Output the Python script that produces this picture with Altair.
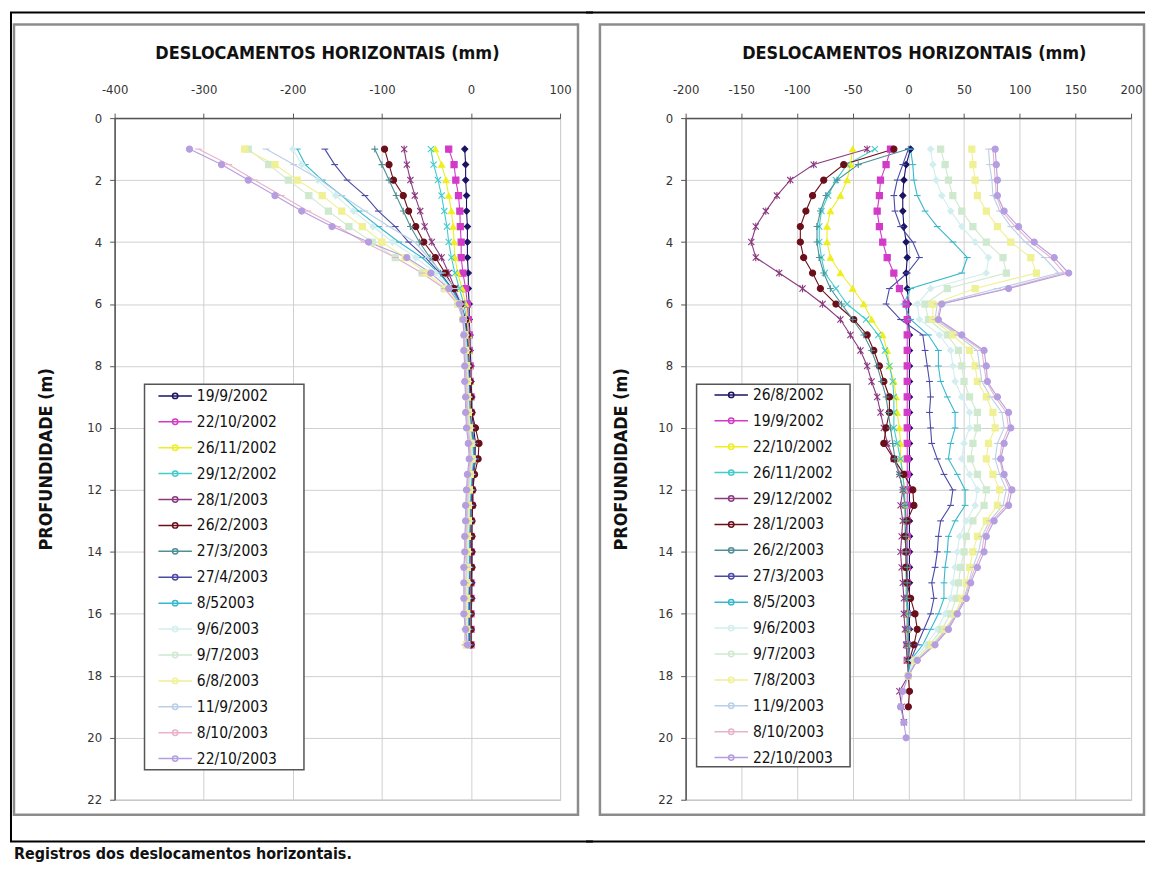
import altair as alt
import pandas as pd

FONT = "Liberation Sans Narrow, DejaVu Sans Condensed, Arial Narrow, sans-serif"

# ---------------- depths (m) ----------------
PROF_L = [1.0, 1.5, 2.0, 2.5, 3.0, 3.5, 4.0, 4.5, 5.0, 5.5, 6.0, 6.5, 7.0, 7.5, 8.0, 8.5,
          9.0, 9.5, 10.0, 10.5, 11.0, 11.5, 12.0, 12.5, 13.0, 13.5, 14.0, 14.5, 15.0,
          15.5, 16.0, 16.5, 17.0]
PROF_R = [1.0, 1.5, 2.0, 2.5, 3.0, 3.5, 4.0, 4.5, 5.0, 5.5, 6.0, 6.5, 7.0, 7.5, 8.0, 8.5,
          9.0, 9.5, 10.0, 10.5, 11.0, 11.5, 12.0, 12.5, 13.0, 13.5, 14.0, 14.5, 15.0,
          15.5, 16.0, 16.5, 17.0, 17.5, 18.0, 18.5, 19.0, 19.5, 20.0]

# ---------------- series names ----------------
DATAS_L = ["19/9/2002", "22/10/2002", "26/11/2002", "29/12/2002", "28/1/2003", "26/2/2003",
           "27/3/2003", "27/4/2003", "8/52003", "9/6/2003", "9/7/2003", "6/8/2003",
           "11/9/2003", "8/10/2003", "22/10/2003"]
DATAS_R = ["26/8/2002", "19/9/2002", "22/10/2002", "26/11/2002", "29/12/2002", "28/1/2003",
           "26/2/2003", "27/3/2003", "8/5/2003", "9/6/2003", "9/7/2003", "7/8/2003",
           "11/9/2003", "8/10/2003", "22/10/2003"]

CORES = ["#1b1464", "#d23ac8", "#eeee22", "#44cccc", "#8a3a80", "#6b0f1a", "#4f8f96",
         "#4a4aa8", "#38b8cc", "#d2eeee", "#cfe9cf", "#f0f095", "#b9cfe8", "#e8b2cc", "#b59ee0"]

X_MARK = "M-1,-1L1,1M-1,1L1,-1"
STAR = "M-1,-1L1,1M-1,1L1,-1M0,-1.2L0,1.2"
PLUS = "M-1.1,0L1.1,0M0,-1.1L0,1.1"
DASH = "M-1.1,0L1.1,0"
FORMAS = ["diamond", "square", "triangle-up", X_MARK, STAR, "circle", PLUS, DASH, DASH,
          "diamond", "square", "square", DASH, DASH, "circle"]

# ---------------- left panel values (mm) ----------------
L01 = [-7, -6, -6, -5, -5, -4, -4, -4, -3, -3, -2, -2, -1, -1, 0, 0, 1, 1, 3, 5, 5, 3, 2, 2, 1, 1, 1, 1, 1, 1, 0, 0, 0]
L02 = [-25, -19, -17, -14, -12.5, -12, -11, -11, -9, -6, -4, -3, -2, -2, -1, -1, 0, 0, 1, 2, 2, 1, 1, 1, 0, 0, 0, 0, 0, 0, 0, 0, 0]
L03 = [-40, -33, -28, -25, -22, -20, -19, -18, -15, -10, -6, -4, -3, -2, -2, -1, -1, 0, 1, 3, 4, 2, 1, 0, 0, 0, -1, -1, -1, -1, -1, -1, -1]
L04 = [-45, -42, -37, -33, -30, -27, -25, -22, -18, -13, -8, -5, -4, -3, -2, -2, -1, -1, 0, 2, 3, 1, 0, 0, -1, -1, -1, -1, -2, -2, -2, -2, -2]
L05 = [-75, -72, -68, -63, -57, -52, -44, -33, -25, -18, -12, -7, -5, -4, -3, -2, -2, -1, 1, 4, 5, 2, 1, 0, 0, -1, -1, -1, -1, -2, -2, -2, -2]
L06 = [-97, -92, -87, -76, -70, -62, -53, -40, -29, -19, -11, -6, -4, -3, -2, -1, 0, 1, 5, 9, 8, 4, 2, 2, 1, 1, 1, 1, 0, 0, 0, 0, 0]
L07 = [-108, -100, -92, -84, -76, -68, -58, -46, -34, -22, -12, -7, -5, -4, -3, -2, -2, -1, 1, 4, 5, 2, 1, 0, 0, -1, -1, -1, -1, -1, -1, -1, -1]
L08 = [-164, -153, -139, -119, -104, -85, -70, -51, -35, -21, -11, -7, -5, -4, -3, -2, -2, -1, 0, 3, 4, 2, 1, 0, -1, -1, -1, -2, -2, -2, -2, -2, -2]
L09 = [-195, -186, -167, -145, -126, -104, -81, -55, -36, -22, -12, -8, -6, -4, -3, -3, -2, -2, 0, 2, 3, 1, 0, -1, -1, -2, -2, -2, -3, -3, -3, -3, -3]
L10 = [-200, -190, -172, -152, -132, -110, -88, -62, -40, -24, -13, -8, -6, -5, -4, -3, -3, -2, -1, 1, 2, 0, -1, -2, -2, -3, -3, -3, -3, -4, -4, -4, -4]
L11 = [-250, -227, -205, -182, -160, -137, -111, -85, -55, -30, -15, -9, -7, -6, -5, -4, -4, -3, -2, 0, 1, -1, -2, -3, -3, -4, -4, -4, -5, -5, -5, -5, -5]
L12 = [-254, -220, -195, -167, -145, -122, -100, -74, -50, -28, -14, -9, -7, -6, -5, -4, -4, -3, -2, 0, 1, -1, -2, -3, -3, -4, -4, -5, -5, -5, -5, -5, -5]
L13 = [-230, -199, -169, -145, -119, -92, -63, -48, -32, -18, -10, -8, -7, -6, -5, -5, -4, -4, -3, -1, 0, -2, -3, -4, -4, -5, -5, -5, -6, -6, -6, -6, -6]
L14 = [-306, -272, -243, -213, -183, -150, -120, -85, -55, -30, -15, -9, -8, -7, -6, -6, -5, -5, -4, -2, -1, -3, -4, -5, -5, -6, -6, -7, -7, -7, -7, -7, -7]
L15 = [-316, -280, -250, -220, -190, -156, -115, -72, -45, -25, -13, -9, -8, -8, -7, -7, -6, -6, -5, -3, -2, -4, -5, -6, -6, -7, -7, -8, -8, -8, -8, -6, -4]

# ---------------- right panel values (mm) ----------------
R01 = [2, -2, -4, -5, -5, -4, -2, -1, -2, -1, 0, 0, 1, 1, 1, 1, 1, 1, 1, 1, 1, 1, 1, 1, 1, 1, 1, 1, 1, 1, 1, 1, 1, 0]
R02 = [-16, -20, -25, -26, -28, -26, -23, -19, -13, -8, -2, -1, -1, -1, -1, -1, -1, -1, -1, -1, -1, -1, -1, -1, -1, -1, -1, -1, -1, -1, -1, -1, -1, -1]
R03 = [-50, -52, -55, -61, -70, -73, -73, -70, -61, -50, -40, -33, -23, -19, -17, -13, -11, -10, -8, -7, -7, -5, -3.5, -3, -3, -2, -2, -2, -2, -1, -1, -1, -1, -1]
R04 = [-30, -55, -65, -72, -78, -80, -80, -78, -75, -65, -55, -38, -27, -21, -17, -14, -13, -13, -13, -10, -7, -5, -3.5, -3, -3, -3, -2, -2, -2, -2, -1, -1, -1, -1]
R05 = [-37, -85, -106, -118, -128, -137, -141, -137, -116, -95, -77, -61, -52, -43, -37, -33, -28, -25, -22, -19, -13, -8, -5, -7, -5, -6, -7, -6, -5, -4, -4, -3, -2, -1, 0, -8, -6, -4]
R06 = [-13, -58, -76, -86, -92, -97, -97, -94, -86, -79, -65, -49, -37, -31, -26, -22, -17, -17, -20, -22, -13, -4, 4, 5, -1, -3, -2, -2, -1, 2, 6, 8, 5, 1, 0, 1, 0]
R07 = [0, -45, -64, -74, -79, -82, -82, -80, -76, -70, -60, -50, -40, -33, -28, -24, -20, -18, -16, -14, -12, -8, -5, -3, -2, -2, -2, -1, -1, -1, 0, 0, 0, 0, 0]
R08 = [0, -5, -10, -13, -12, -7, 4, 10, -1, -17, -20, -7, 13, 15, 17, 19, 20, 19, 20, 21, 26, 32, 40, 38, 29, 27, 26, 24, 21, 23, 20, 14, 8, 2, 0]
R09 = [2, 4, 5, 8, 15, 26, 40, 53, 48, 2, -4, 2, 18, 27, 27, 29, 35, 42, 42, 38, 36, 44, 51, 51, 42, 36, 35, 33, 32, 32, 27, 20, 13, 2, 0]
R10 = [20, 22, 25, 30, 38, 48, 60, 72, 70, 20, 8, 10, 28, 38, 40, 42, 48, 55, 55, 50, 48, 55, 62, 60, 52, 46, 44, 42, 40, 38, 33, 26, 16, 4, 0]
R11 = [29, 33, 36, 40, 48, 58, 70, 85, 88, 35, 15, 18, 35, 45, 48, 50, 55, 62, 62, 58, 56, 62, 70, 68, 58, 52, 50, 47, 45, 43, 38, 30, 19, 6, 0]
R12 = [57, 58, 60, 62, 70, 80, 92, 110, 115, 60, 22, 22, 40, 55, 60, 62, 70, 76, 78, 72, 70, 76, 82, 80, 70, 62, 58, 55, 52, 48, 42, 33, 21, 7, 0]
R13 = [72, 73, 75, 76, 82, 92, 105, 122, 135, 80, 26, 24, 44, 62, 64, 66, 74, 84, 86, 80, 78, 82, 88, 85, 73, 66, 63, 58, 54, 50, 43, 34, 22, 8, 0]
R14 = [76, 77, 78, 79, 84, 96, 110, 128, 140, 88, 29, 26, 46, 66, 68, 70, 78, 88, 90, 84, 82, 85, 91, 88, 75, 68, 66, 60, 55, 51, 43, 35, 23, 8, 0]
R15 = [78, 79, 80, 80, 86, 99, 113, 131, 144, 90, 30, 27, 48, 68, 70, 71, 80, 90, 92, 86, 83, 86, 93, 90, 77, 70, 68, 62, 56, 52, 44, 36, 24, 8, 0, -5, -7, -4, -2]

SERIES_L = [L01, L02, L03, L04, L05, L06, L07, L08, L09, L10, L11, L12, L13, L14, L15]
SERIES_R = [R01, R02, R03, R04, R05, R06, R07, R08, R09, R10, R11, R12, R13, R14, R15]

XTICKS_L = [-400, -300, -200, -100, 0, 100]
XTICKS_R = [-200, -150, -100, -50, 0, 50, 100, 150, 200]
YTICKS = [0, 2, 4, 6, 8, 10, 12, 14, 16, 18, 20, 22]

LEG_SYMBOL = ("M-2.8,0L2.8,0M-0.45,0A0.45,0.45,0,1,0,0.45,0"
              "A0.45,0.45,0,1,0,-0.45,0Z")


def longo(datas, series, prof):
    rows = []
    for i, (nome, vals) in enumerate(zip(datas, series)):
        for p, v in zip(prof, vals):
            rows.append({"serie": nome, "marca": "p" + nome, "ordem": i, "prof": p, "desl": v})
    return pd.DataFrame(rows)


def painel(df, datas, xdom, xticks, legx, legy, legbox, frame, outer, ytitlepad, titlex,
           caption=False):
    x = alt.X("desl:Q",
              scale=alt.Scale(domain=xdom, nice=False, zero=False),
              axis=alt.Axis(orient="top", values=xticks,
                            title="DESLOCAMENTOS HORIZONTAIS (mm)",
                            labelExpr="'' + datum.value",
                            titleFont=FONT, titleFontSize=18, titleFontWeight="bold",
                            titleColor="#111111", titlePadding=21, titleX=titlex,
                            titleAlign="center",
                            labelFont=FONT, labelFontSize=13, labelColor="#333333",
                            labelPadding=17, tickSize=5, tickColor="#555555",
                            domainColor="#555555", domainWidth=1.5,
                            gridColor="#d0d0d0", labelFlush=False))
    y = alt.Y("prof:Q",
              scale=alt.Scale(domain=[0, 22], reverse=True, nice=False, zero=False),
              axis=alt.Axis(values=YTICKS, title="PROFUNDIDADE (m)",
                            titleFont=FONT, titleFontSize=18, titleFontWeight="bold",
                            titleColor="#111111", titlePadding=ytitlepad,
                            labelFont=FONT, labelFontSize=13, labelColor="#333333",
                            labelPadding=8, tickSize=5, tickColor="#555555",
                            domainColor="#555555", domainWidth=1.5,
                            gridColor="#d0d0d0"))
    sc = alt.Scale(domain=datas, range=CORES)
    lines = alt.Chart(df).mark_line(strokeWidth=1.1).encode(
        x=x, y=y,
        color=alt.Color("serie:N", scale=sc, sort=datas,
                        legend=alt.Legend(title=None, orient="none", legendX=legx,
                                          legendY=legy, direction="vertical",
                                          symbolType=LEG_SYMBOL, symbolSize=144,
                                          symbolStrokeWidth=1.5, symbolOffset=16,
                                          labelOffset=14,
                                          labelFont=FONT, labelFontSize=15.5,
                                          labelColor="#111111", rowPadding=9,
                                          padding=4, labelLimit=250)),
        detail="serie:N",
        order=alt.Order("prof:Q"),
    )
    marcas = ["p" + d for d in datas]
    sc2 = alt.Scale(domain=marcas, range=CORES)
    pts = alt.Chart(df).mark_point(filled=True, size=38, strokeWidth=1.1, opacity=1).encode(
        x=x, y=y,
        fill=alt.Fill("marca:N", scale=sc2, legend=None),
        stroke=alt.Stroke("marca:N", scale=sc2, legend=None),
        shape=alt.Shape("marca:N", scale=alt.Scale(domain=marcas, range=FORMAS), legend=None),
    )
    one = pd.DataFrame({"k": [0]})
    fx0, fx1, fy0, fy1 = frame
    box = alt.Chart(one).mark_rect(fill="white", fillOpacity=0, stroke="#8c8c8c",
                                   strokeWidth=2.5).encode(
        x=alt.value(fx0), x2=alt.value(fx1), y=alt.value(fy0), y2=alt.value(fy1))
    lx0, lx1, ly0, ly1 = legbox
    lbox = alt.Chart(one).mark_rect(fill="white", stroke="#555555",
                                    strokeWidth=1.5).encode(
        x=alt.value(lx0), x2=alt.value(lx1), y=alt.value(ly0), y2=alt.value(ly1))
    layers = [box, lbox]
    for (a, b, c, d) in outer:
        if a == b:
            layers.append(alt.Chart(one).mark_rule(color="black", strokeWidth=2).encode(
                x=alt.value(a), y=alt.value(c), y2=alt.value(d)))
        else:
            layers.append(alt.Chart(one).mark_rule(color="black", strokeWidth=2).encode(
                x=alt.value(a), x2=alt.value(b), y=alt.value(c)))
    if caption:
        layers.append(alt.Chart(one).mark_text(align="left", baseline="bottom", font=FONT,
                                               fontSize=16, fontWeight="bold",
                                               color="#111111").encode(
            x=alt.value(-101), y=alt.value(746),
            text=alt.value("Registros dos deslocamentos horizontais.")))
    layers += [lines, pts]
    return alt.layer(*layers).properties(width=447, height=684)


df_l = longo(DATAS_L, SERIES_L, PROF_L)
df_r = longo(DATAS_R, SERIES_R, PROF_R)

left = painel(df_l, DATAS_L, [-400, 100], XTICKS_L, 33, 267, (30, 190, 267, 654),
              (-101, 465, -94, 699),
              [(-104, -104, -106, 726), (-105, 480, -106, -106), (-105, 480, 726, 726)],
              31, 213, caption=True)
right = painel(df_r, DATAS_R, [-200, 200], XTICKS_R, 18, 266, (11, 165, 267, 651),
               (-86, 460, -94, 699),
               [(-100, 461, -106, -106), (-100, 461, 726, 726)],
               27, 229)

chart = alt.hconcat(left, right, spacing=126, bounds="flush").resolve_scale(
    color="independent", fill="independent", stroke="independent", shape="independent",
    x="independent", y="independent"
).resolve_legend(color="independent").properties(
    padding={"left": 0, "top": 1, "right": 0, "bottom": 0}
).configure_view(stroke="#9a9a9a", strokeWidth=1)

chart.save("out.html", embed_options={"renderer": "svg", "actions": False})
